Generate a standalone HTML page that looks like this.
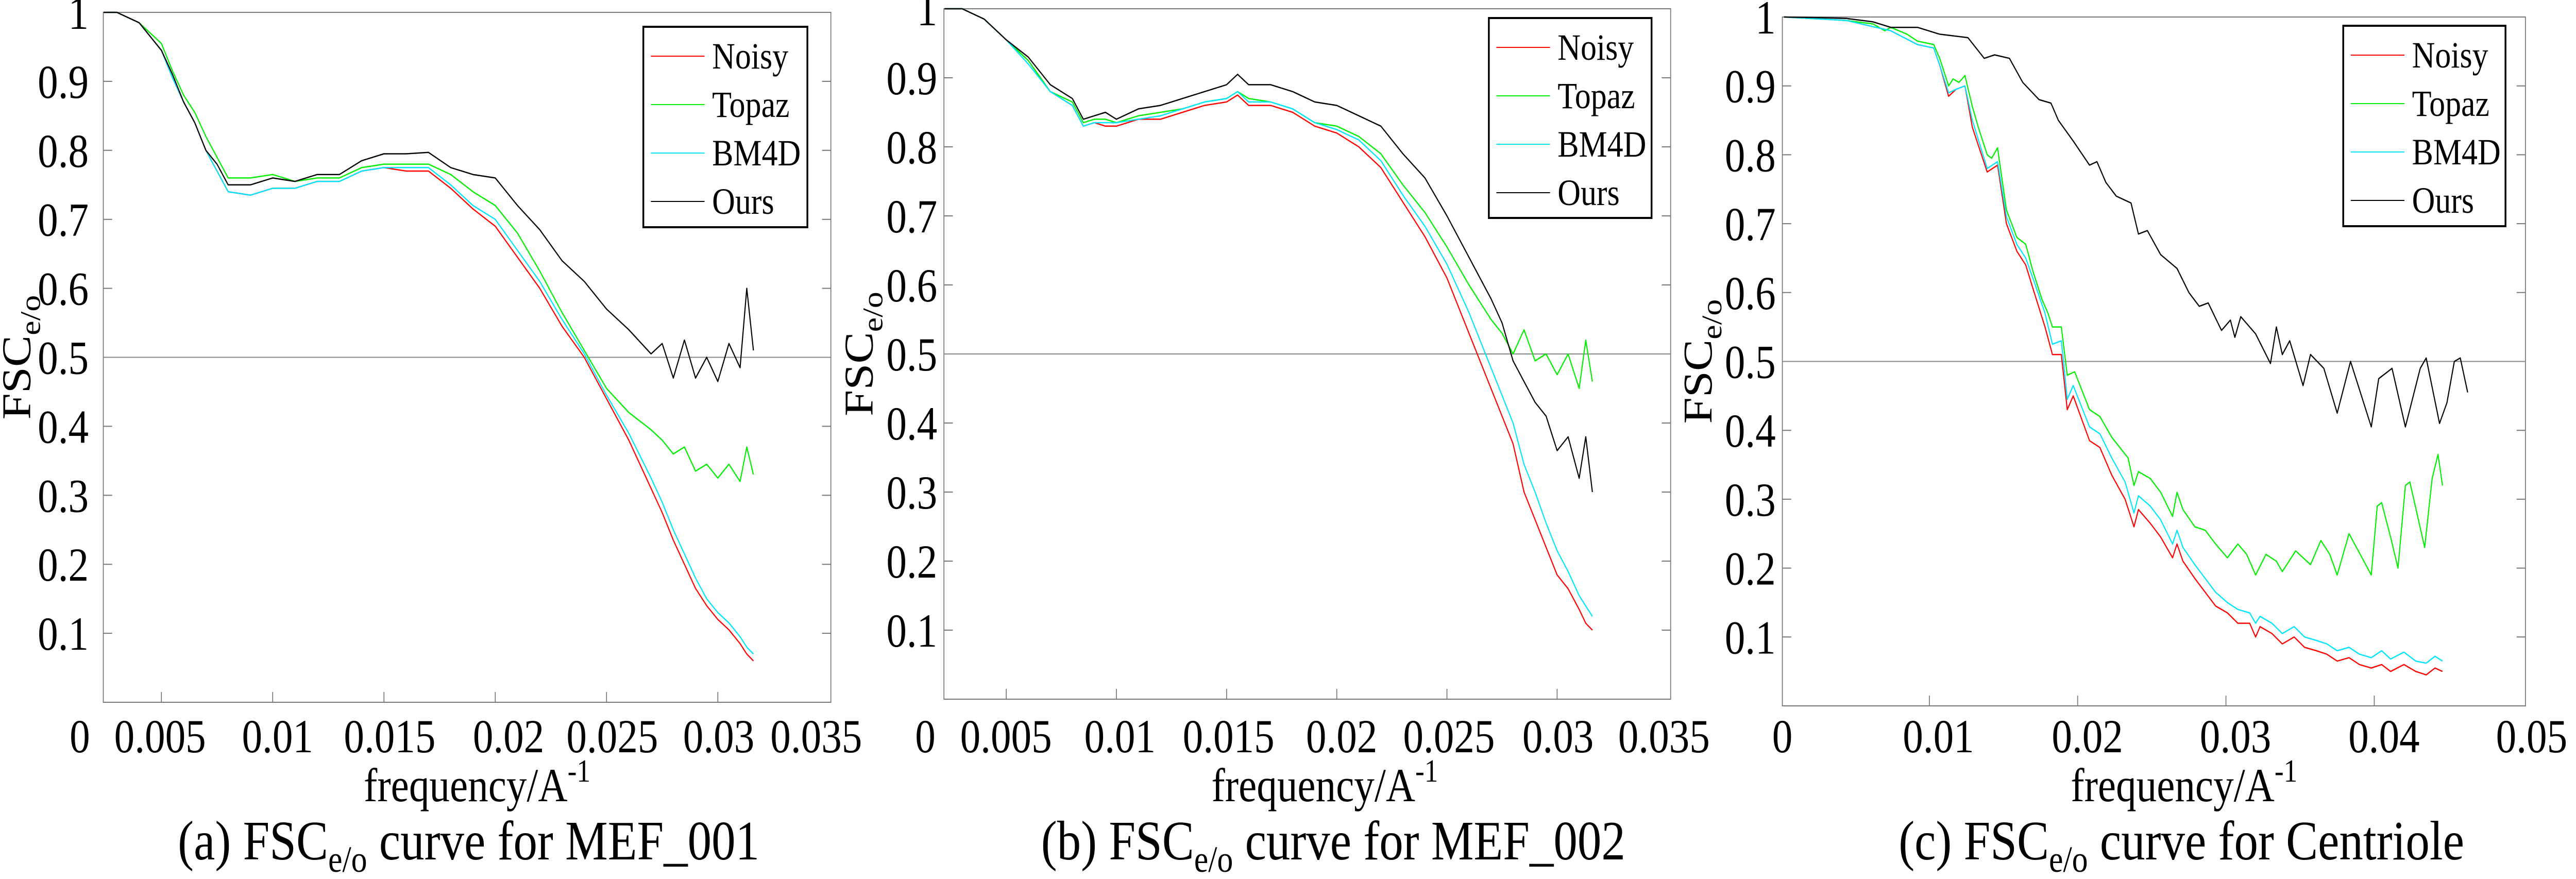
<!DOCTYPE html>
<html><head><meta charset="utf-8"><style>
html,body{margin:0;padding:0;background:#fff;overflow:hidden;width:100%;height:100%;}
svg{display:block;font-family:"Liberation Serif",serif;width:100vw;height:100vh;}
</style></head><body>
<svg id="fig" viewBox="0 0 5810 1706" preserveAspectRatio="none" xmlns="http://www.w3.org/2000/svg"></svg>
<script>
// ---- Panel (a) MEF_001 ----
const freqA=[0.0024,0.003,0.004,0.005,0.0055,0.006,0.0065,0.007,0.0075,0.008,0.009,0.010,0.011,0.012,0.013,0.014,0.015,0.016,0.017,0.018,0.019,0.020,0.021,0.022,0.023,0.024,0.025,0.026,0.027,0.0275,0.028,0.0285,0.029,0.0295,0.030,0.0305,0.031,0.0313,0.0316];
const noisyA=[1,1,.985,.945,.905,.87,.84,.8,.77,.74,.735,.745,.745,.755,.755,.77,.775,.77,.77,.745,.715,.69,.645,.6,.545,.5,.44,.38,.31,.275,.235,.2,.165,.14,.12,.105,.085,.07,.06];
const topazA=[1,1,.985,.955,.915,.88,.855,.82,.79,.76,.76,.765,.755,.76,.76,.775,.78,.78,.78,.765,.74,.72,.68,.625,.565,.51,.455,.42,.395,.38,.36,.37,.335,.345,.325,.345,.32,.37,.33];
const bm4dA=[1,1,.985,.945,.905,.87,.84,.8,.77,.74,.735,.745,.745,.755,.755,.77,.775,.775,.775,.75,.72,.7,.655,.61,.555,.505,.445,.39,.325,.29,.25,.215,.18,.15,.13,.115,.095,.08,.07];
const oursA=[1,1,.985,.945,.91,.87,.84,.8,.78,.75,.75,.76,.755,.765,.765,.785,.795,.795,.797,.775,.765,.76,.72,.685,.64,.61,.57,.54,.505,.52,.47,.525,.47,.5,.465,.52,.485,.6,.51];
// ---- Panel (b) MEF_002 ----
const freqB=[0.0022,0.003,0.004,0.005,0.006,0.007,0.008,0.0085,0.009,0.0095,0.010,0.011,0.012,0.013,0.014,0.015,0.0155,0.016,0.017,0.018,0.019,0.020,0.021,0.022,0.023,0.024,0.025,0.026,0.027,0.0275,0.028,0.0285,0.029,0.0295,0.030,0.0305,0.031,0.0313,0.0316];
const noisyB=[1,1,.985,.955,.925,.88,.86,.83,.835,.83,.83,.84,.84,.85,.86,.865,.875,.86,.86,.85,.83,.82,.8,.77,.72,.67,.61,.53,.45,.41,.37,.3,.26,.22,.18,.16,.13,.11,.1];
const topazB=[1,1,.985,.955,.925,.88,.865,.835,.84,.84,.835,.845,.85,.855,.865,.87,.88,.87,.865,.855,.835,.83,.815,.79,.745,.705,.655,.6,.55,.53,.5,.535,.49,.5,.47,.5,.45,.52,.46];
const bm4dB=[1,1,.985,.955,.92,.88,.86,.83,.835,.835,.835,.84,.845,.855,.865,.87,.88,.865,.865,.855,.835,.825,.81,.78,.73,.685,.63,.56,.48,.44,.4,.34,.3,.255,.215,.185,.15,.135,.12];
const oursB=[1,1,.985,.955,.93,.89,.87,.84,.845,.85,.84,.855,.86,.87,.88,.89,.905,.89,.89,.88,.865,.86,.845,.83,.79,.755,.7,.64,.58,.545,.49,.46,.43,.41,.36,.38,.32,.38,.3];
// ---- Panel (c) Centriole ----
const freqC=[0.0002,0.0044,0.0074,0.0092,0.0103,0.0107,0.0113,0.0118,0.0124,0.0129,0.0139,0.0146,0.0152,0.0159,0.0165,0.0170,0.0178,0.0183,0.0189,0.0193,0.0197,0.0208,0.0215,0.0223,0.0232,0.0238,0.0241,0.0249,0.0256,0.0264,0.0267,0.0271,0.0279,0.0286,0.0293,0.0301,0.0308,0.0316,0.0320,0.0323,0.0331,0.0338,0.0346,0.0353,0.0361,0.0368,0.0375,0.0383,0.0390,0.0398,0.0405,0.0411,0.0420,0.0428,0.0435,0.0441,0.0446];
const noisyC=[1,.995,.98,.96,.955,.93,.885,.895,.9,.84,.775,.785,.7,.66,.64,.605,.55,.51,.51,.43,.45,.385,.375,.335,.3,.26,.285,.265,.245,.215,.235,.21,.185,.165,.145,.135,.12,.12,.1,.115,.105,.09,.1,.085,.08,.075,.065,.07,.06,.055,.06,.05,.06,.05,.045,.055,.05];
const bm4dC=[1,.995,.98,.96,.955,.93,.89,.895,.9,.85,.78,.79,.71,.67,.65,.62,.57,.525,.53,.445,.465,.405,.395,.36,.325,.28,.305,.29,.27,.235,.255,.23,.205,.185,.165,.15,.14,.135,.12,.13,.12,.105,.115,.1,.095,.09,.08,.085,.075,.07,.08,.068,.078,.065,.062,.072,.065];
const freqCTopaz=[0.0002,0.0044,0.0062,0.0070,0.0074,0.0085,0.0092,0.0103,0.0107,0.0113,0.0116,0.0120,0.0124,0.0129,0.0133,0.0139,0.0142,0.0146,0.0152,0.0159,0.0165,0.0170,0.0176,0.0180,0.0183,0.0189,0.0193,0.0198,0.0208,0.0215,0.0223,0.0234,0.0238,0.0241,0.0249,0.0256,0.0264,0.0267,0.0271,0.0279,0.0286,0.0293,0.0301,0.0308,0.0314,0.0320,0.0327,0.0334,0.0338,0.0347,0.0357,0.0364,0.0370,0.0375,0.0383,0.0388,0.0398,0.0402,0.0405,0.0411,0.0416,0.0421,0.0424,0.0434,0.0439,0.0443,0.0446];
const topazC=[1,.995,.99,.98,.985,.975,.965,.96,.94,.9,.91,.905,.915,.87,.84,.8,.795,.81,.72,.68,.67,.63,.59,.57,.55,.55,.48,.485,.43,.42,.39,.36,.32,.34,.33,.31,.275,.31,.285,.26,.255,.235,.215,.235,.22,.19,.22,.21,.195,.225,.205,.24,.22,.19,.25,.23,.19,.29,.295,.245,.2,.32,.325,.23,.33,.365,.32];
const freqCOurs=[0.0002,0.0025,0.0044,0.0062,0.0074,0.0092,0.0107,0.0126,0.0137,0.0144,0.0154,0.0163,0.0174,0.0182,0.0187,0.0197,0.0208,0.0213,0.0219,0.0226,0.0236,0.0241,0.0247,0.0256,0.0267,0.0275,0.0282,0.0288,0.0297,0.0303,0.0306,0.0310,0.0320,0.0330,0.0334,0.0338,0.0343,0.0352,0.0357,0.0366,0.0375,0.0384,0.0398,0.0403,0.0412,0.0421,0.0431,0.0435,0.0444,0.0449,0.0454,0.0458,0.0463];
const oursC=[1,.999,.998,.993,.985,.985,.975,.97,.94,.945,.94,.905,.88,.875,.85,.82,.785,.79,.76,.74,.73,.685,.69,.655,.635,.6,.58,.585,.545,.56,.535,.565,.54,.497,.55,.51,.53,.465,.51,.49,.425,.5,.405,.475,.49,.405,.49,.505,.41,.44,.5,.505,.455];
// tick labels
const xTicksAB=[0.005,0.01,0.015,0.02,0.025,0.03];
const xLabelsAB=["0","0.005","0.01","0.015","0.02","0.025","0.03","0.035"];
const xTicksC=[0.01,0.02,0.03,0.04];
const xLabelsC=["0","0.01","0.02","0.03","0.04","0.05"];
const yTicks=[0.1,0.2,0.3,0.4,0.5,0.6,0.7,0.8,0.9];
const yLabels=["0.1","0.2","0.3","0.4","0.5","0.6","0.7","0.8","0.9","1"];
const seriesNames=["Noisy","Topaz","BM4D","Ours"];
const seriesColors=["#ff0000","#00ee00","#00e5ff","#000000"];

const NS="http://www.w3.org/2000/svg";
const svg=document.getElementById('fig');
function mk(tag,attrs,parent){const e=document.createElementNS(NS,tag);for(const k in attrs)e.setAttribute(k,attrs[k]);(parent||svg).appendChild(e);return e;}

const panels=[
 {id:'a',L:233,R:1874,T:24,B:1363,x0:113,sx:50200,xt:xTicksAB,xl:xLabelsAB,
  xlPos:[180,361,626,879,1147,1381,1621,1841],ylRight:200,yTitleX:68,
  freqs:[freqA,freqA,freqA,freqA],vals:[noisyA,topazA,bm4dA,oursA],
  leg:{x:1451,y:52,w:370,h:389},xTitle:1076,cap:1057,capPre:"(a) FSC",capPost:" curve for MEF_001"},
 {id:'b',L:2129,R:3768,T:17,B:1357,x0:2021,sx:49700,xt:xTicksAB,xl:xLabelsAB,
  xlPos:[2087,2269,2526,2771,3026,3268,3514,3753],ylRight:2114,yTitleX:1968,
  freqs:[freqB,freqB,freqB,freqB],vals:[noisyB,topazB,bm4dB,oursB],
  leg:{x:3358,y:35,w:367,h:388},xTitle:2988,cap:3007,capPre:"(b) FSC",capPost:" curve for MEF_002"},
 {id:'c',L:4020,R:5696,T:33,B:1370,x0:4017,sx:33450,xt:xTicksC,xl:xLabelsC,
  xlPos:[4020,4372,4708,5042,5377,5710],ylRight:4005,yTitleX:3860,
  freqs:[freqC,freqCTopaz,freqC,freqCOurs],vals:[noisyC,topazC,bm4dC,oursC],
  leg:{x:5285,y:50,w:366,h:389},xTitle:4926,cap:4920,capPre:"(c) FSC",capPost:" curve for Centriole"}
];

panels.forEach(p=>{
  const g=mk('g',{});
  
  
  const X=v=>p.x0+v*p.sx;
  const Y=v=>p.B-v*(p.B-p.T);
  const box=mk('rect',{x:p.L,y:p.T,width:p.R-p.L,height:p.B-p.T,fill:'none',stroke:'#777','stroke-width':2},g);
  
  
  yTicks.forEach(t=>{
    mk('line',{x1:p.L,x2:p.L+20,y1:Y(t),y2:Y(t),stroke:'#777','stroke-width':2},g);
    mk('line',{x1:p.R,x2:p.R-20,y1:Y(t),y2:Y(t),stroke:'#777','stroke-width':2},g);
  });
  yLabels.forEach((s,i)=>{
    const v=(i+1)/10;
    const t=mk('text',{x:p.ylRight,y:Y(v)+32,'text-anchor':'end','font-size':92},g);
    t.textContent=s;
    
    
  });
  p.xt.forEach(t=>{
    mk('line',{x1:X(t),x2:X(t),y1:p.B,y2:p.B-20,stroke:'#777','stroke-width':2},g);
  });
  p.xl.forEach((s,i)=>{
    const t=mk('text',{x:p.xlPos[i],y:1460,'text-anchor':'middle','font-size':92},g);
    t.textContent=s;
    
    
  });
  const ref=mk('line',{x1:p.L,x2:p.R,y1:Y(0.5),y2:Y(0.5),stroke:'#888','stroke-width':2},g);
  
  
  p.vals.forEach((vals,si)=>{
    const fr=p.freqs[si];
    const n=Math.min(fr.length,vals.length);
    let d='';
    for(let i=0;i<n;i++){d+=(i?'L':'M')+X(fr[i]).toFixed(1)+','+Y(vals[i]).toFixed(1);}
    const path=mk('path',{d:d,fill:'none',stroke:seriesColors[si],'stroke-width':2.5,'stroke-linejoin':'round'},g);
    
    
  });
  const lg=mk('g',{},g);
  
  
  mk('rect',{x:p.leg.x,y:p.leg.y,width:p.leg.w,height:p.leg.h,fill:'#fff',stroke:'#000','stroke-width':4},lg);
  seriesNames.forEach((nm,i)=>{
    const cy=p.leg.y+57+i*94;
    const e=mk('g',{},lg);
    
    
    mk('line',{x1:p.leg.x+17,x2:p.leg.x+138,y1:cy,y2:cy,stroke:seriesColors[i],'stroke-width':2},e);
    const t=mk('text',{x:p.leg.x+155,y:cy+24,'font-size':72},e);
    t.textContent=nm;
  });
  const yt=mk('text',{x:0,y:0,'font-size':92,'text-anchor':'middle',transform:`translate(${p.yTitleX},${(p.T+p.B)/2}) rotate(-90)`},g);
  
  
  yt.innerHTML='FSC<tspan font-size="64" dy="22">e/o</tspan>';
  const xt=mk('text',{x:p.xTitle,y:1555,'font-size':92,'text-anchor':'middle'},g);
  
  
  xt.innerHTML='frequency/A<tspan font-size="62" dy="-38">-1</tspan>';
  const cp=mk('text',{x:p.cap,y:1668,'font-size':108,'text-anchor':'middle'},g);
  
  
  cp.innerHTML=p.capPre+'<tspan font-size="72" dy="24">e/o</tspan><tspan dy="-24">'+p.capPost+'</tspan>';
});
</script>
</body></html>
